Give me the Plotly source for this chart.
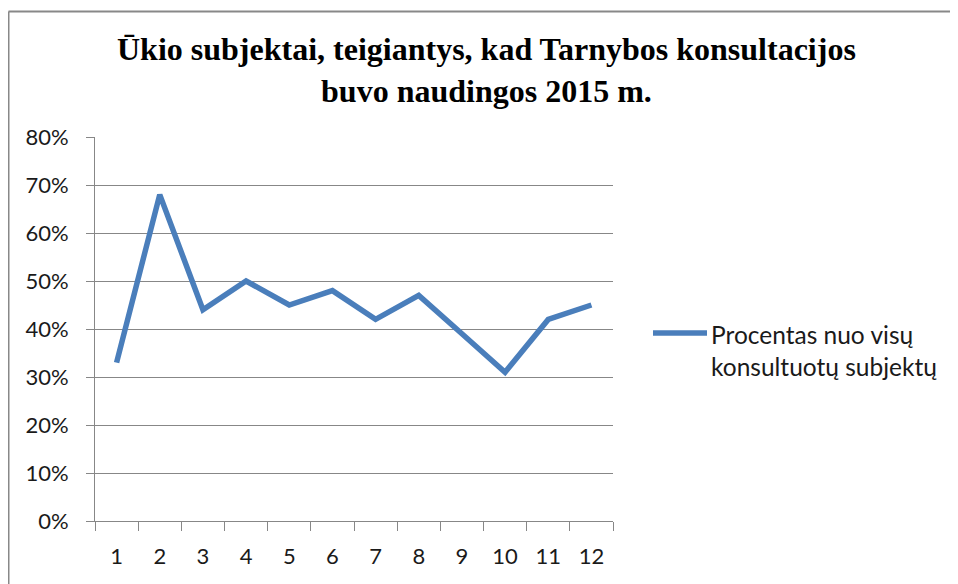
import plotly.graph_objects as go

categories = ["1", "2", "3", "4", "5", "6", "7", "8", "9", "10", "11", "12"]
values = [0.33, 0.68, 0.44, 0.50, 0.45, 0.48, 0.42, 0.47, 0.39, 0.31, 0.42, 0.45]
series_name = "Procentas nuo visų<br>konsultuotų subjektų"
title_text = "Ūkio subjektai, teigiantys, kad Tarnybos konsultacijos<br>buvo naudingos 2015 m."

# page body has an 8px margin, so the figure is offset by 8px on screen
OFF = 8
W, H = 958 - OFF, 584 - OFF
L, R, T, B = 95 - OFF, 345, 137 - OFF, 63
pw, ph = W - L - R, H - T - B

def px2x(px):  # screen px -> paper x
    return (px - OFF - L) / pw

def py2y(py):  # screen px -> paper y
    return (H - B - (py - OFF)) / ph

LINE_COLOR = "#4A7EBB"
GRID = "#878787"
FONT = "Lato"
TXT = "#1a1a1a"

fig = go.Figure()
fig.add_trace(go.Scatter(
    x=categories, y=values, mode="lines",
    line=dict(color=LINE_COLOR, width=5.5),
    name=series_name, showlegend=False,
))

fig.update_layout(
    width=W, height=H,
    margin=dict(l=L, r=R, t=T, b=B),
    paper_bgcolor="white", plot_bgcolor="white",
    font=dict(family=FONT, size=22, color=TXT),
    xaxis=dict(
        type="category", range=[-0.5, 11.5],
        tickson="boundaries", ticks="outside", ticklen=9, tickcolor=GRID,
        showgrid=False, showline=True, linecolor=GRID, linewidth=1,
        tickfont=dict(family=FONT, size=22, color=TXT),
        ticklabelstandoff=16,
    ),
    yaxis=dict(
        range=[0, 0.8], dtick=0.1, tickformat=".0%",
        ticks="outside", ticklen=8, tickcolor=GRID,
        showgrid=True, gridcolor=GRID, gridwidth=1,
        showline=True, linecolor=GRID, linewidth=1,
        zeroline=False,
        tickfont=dict(family=FONT, size=22, color=TXT),
        ticklabelstandoff=13,
    ),
    showlegend=False,
)

# Chart border (top and left edges)
fig.add_shape(type="line", xref="paper", yref="paper",
              x0=px2x(8.5), x1=px2x(958), y0=py2y(11.5), y1=py2y(11.5),
              line=dict(color="#888888", width=2))
fig.add_shape(type="line", xref="paper", yref="paper",
              x0=px2x(8.5), x1=px2x(8.5), y0=py2y(11.5), y1=py2y(584),
              line=dict(color="#888888", width=2))

# Title
fig.add_annotation(
    xref="paper", yref="paper", x=px2x(486), y=py2y(70),
    text="<b>" + title_text + "</b>", showarrow=False,
    font=dict(family="Liberation Serif", size=32, color="#000000"),
    xanchor="center", yanchor="middle", align="center",
)

# Legend
fig.add_shape(type="line", xref="paper", yref="paper",
              x0=px2x(653), x1=px2x(707), y0=py2y(333), y1=py2y(333),
              line=dict(color=LINE_COLOR, width=5.5))
fig.add_annotation(
    xref="paper", yref="paper", x=px2x(709), y=py2y(350),
    text=series_name, showarrow=False,
    font=dict(family=FONT, size=24.5, color=TXT),
    xanchor="left", yanchor="middle", align="left",
)

fig.write_html("out.html")
